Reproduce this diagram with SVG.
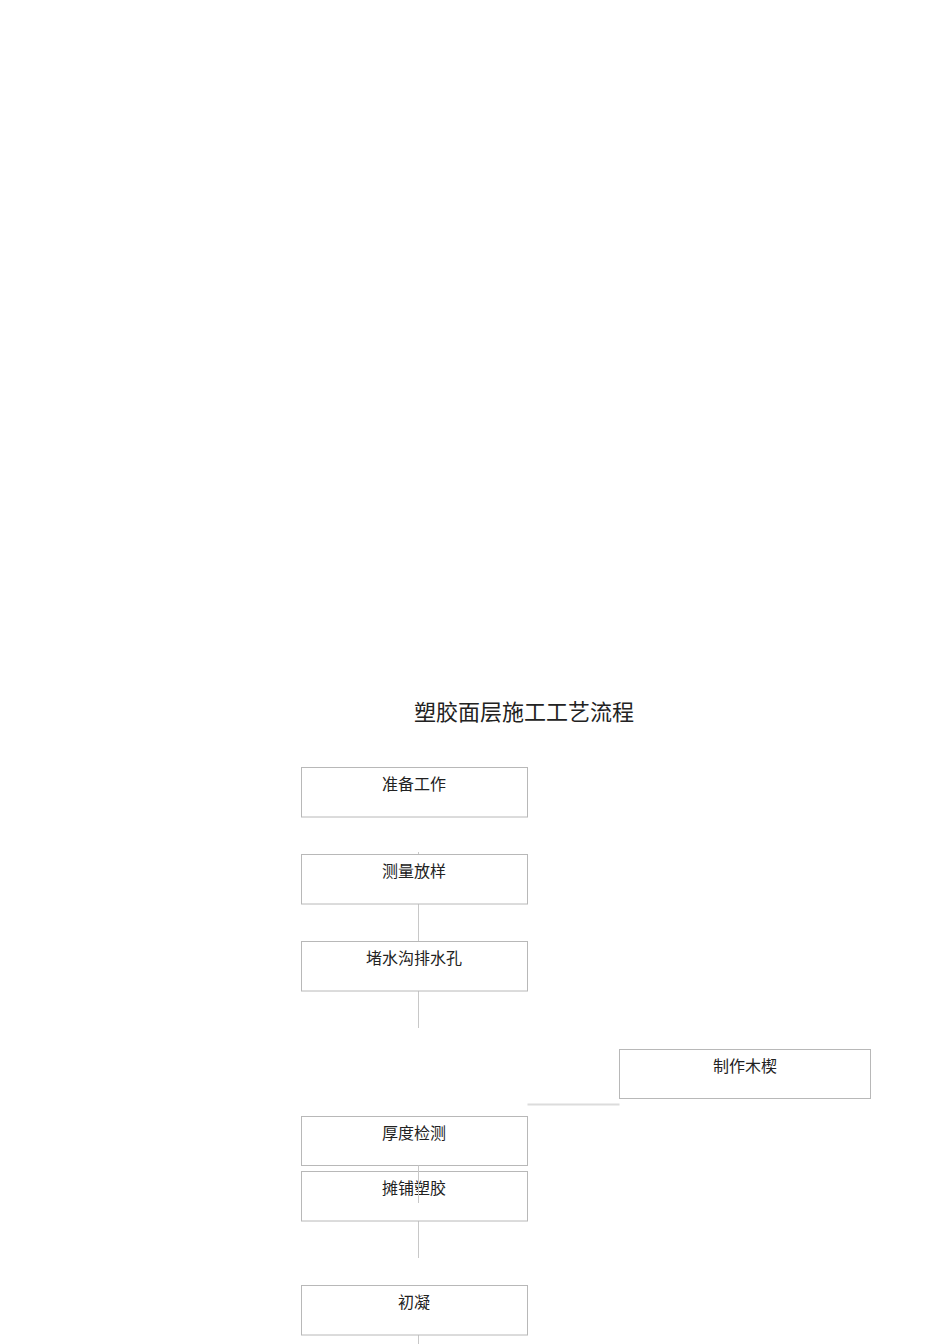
<svg xmlns="http://www.w3.org/2000/svg" width="950" height="1344" viewBox="0 0 950 1344">
<style>
.box{fill:#fff;stroke:#b8b8b8;stroke-width:1}
.t{font-family:"Liberation Serif","Noto Sans CJK SC",serif;font-size:16px;fill:#222;text-anchor:middle}
.title{font-family:"Liberation Serif","Noto Sans CJK SC",serif;font-size:22px;fill:#222;text-anchor:middle}
.c{stroke:#c8c8c8;stroke-width:1;fill:none}
.h{stroke:#dcdcdc;stroke-width:2;fill:none}
</style>
<rect width="950" height="1344" fill="#fff"/>
<text class="title" x="524" y="720">塑胶面层施工工艺流程</text>
<g id="connectors">
<line class="c" x1="418.5" y1="852" x2="418.5" y2="854"/>
<line class="c" x1="418.5" y1="904" x2="418.5" y2="941"/>
<line class="c" x1="418.5" y1="991" x2="418.5" y2="1028"/>
<line class="h" x1="527.5" y1="1104.5" x2="619.5" y2="1104.5"/>
<line class="c" x1="418.5" y1="1221" x2="418.5" y2="1258"/>
<line class="c" x1="418.5" y1="1335" x2="418.5" y2="1344"/>
</g>
<g id="n1"><rect class="box" x="301.5" y="767.5" width="226" height="49.5"/><text class="t" x="414" y="790">准备工作</text></g>
<g id="n2"><rect class="box" x="301.5" y="854.5" width="226" height="49.5"/><text class="t" x="414" y="877">测量放样</text></g>
<g id="n3"><rect class="box" x="301.5" y="941.5" width="226" height="49.5"/><text class="t" x="414" y="964">堵水沟排水孔</text></g>
<g id="n4"><rect class="box" x="619.5" y="1049.5" width="251" height="49"/><text class="t" x="745" y="1072">制作木楔</text></g>
<g id="n5"><rect class="box" x="301.5" y="1116.5" width="226" height="49"/><text class="t" x="414" y="1139">厚度检测</text></g>
<g id="n6"><rect class="box" x="301.5" y="1171.5" width="226" height="49.5"/><text class="t" x="414" y="1194">摊铺塑胶</text></g>
<line class="c" x1="418.5" y1="1165.5" x2="418.5" y2="1203"/>
<g id="n7"><rect class="box" x="301.5" y="1285.5" width="226" height="49.5"/><text class="t" x="414" y="1308">初凝</text></g>
</svg>
